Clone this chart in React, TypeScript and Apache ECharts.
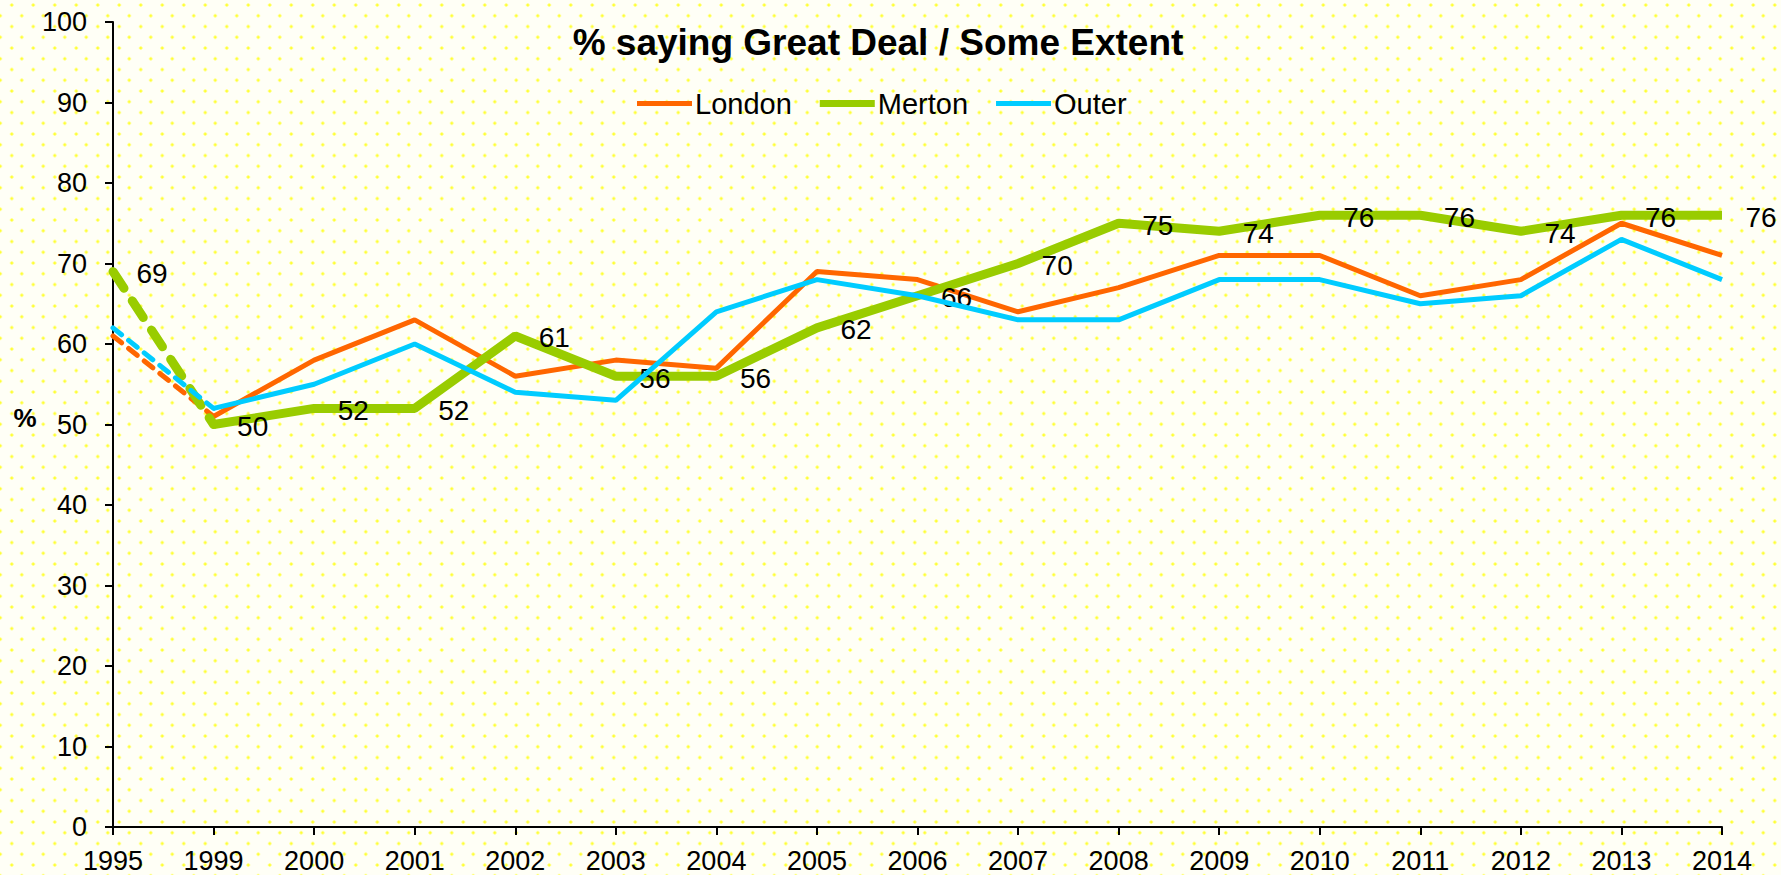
import React, { useEffect, useRef } from "react";
import * as echarts from "echarts";

const years = ["1995", "1999", "2000", "2001", "2002", "2003", "2004", "2005", "2006", "2007", "2008", "2009", "2010", "2011", "2012", "2013", "2014"];
const london = [61, 51, 58, 63, 56, 58, 57, 69, 68, 64, 67, 71, 71, 66, 68, 75, 71];
const merton = [69, 50, 52, 52, 61, 56, 56, 62, 66, 70, 75, 74, 76, 76, 74, 76, 76];
const outer = [62, 52, 55, 60, 54, 53, 64, 68, 66, 63, 63, 68, 68, 65, 66, 73, 68];
const yTicks = { min: 0, max: 100, interval: 10 };
const titleText = "% saying Great Deal / Some Extent";

const FONT = "'Liberation Sans', Arial, sans-serif";
const C_LONDON = "#FF6600";
const C_MERTON = "#99CC00";
const C_OUTER = "#00CCFF";

const solidPart = (arr: number[]) => arr.map((v, i) => (i === 0 ? "-" : v));
const dashedPart = (arr: number[]) => arr.map((v, i) => (i <= 1 ? v : "-"));

export default function App() {
  const ref = useRef<HTMLDivElement>(null);
  useEffect(() => {
    if (!ref.current) return;
    const chart = echarts.init(ref.current, null, { renderer: "svg" });
    const label = {
      show: true,
      position: "right",
      distance: 23,
      offset: [0, 2],
      color: "#000",
      fontSize: 28,
      fontFamily: FONT,
    };
    const hiddenDot = { color: "rgba(0,0,0,0)", borderWidth: 0 };
    chart.setOption({
      animation: false,
      backgroundColor: "transparent",
      grid: { left: 113, right: 59, top: 22, bottom: 48, containLabel: false },
      legend: {
        data: [
          { name: "London", icon: "path://M0 0H55V5H0Z", itemStyle: { color: C_LONDON, opacity: 1 } },
          { name: "Merton", icon: "path://M0 0H55V7H0Z", itemStyle: { color: C_MERTON, opacity: 1 } },
          { name: "Outer", icon: "path://M0 0H55V5H0Z", itemStyle: { color: C_OUTER, opacity: 1 } },
        ],
        left: 632,
        top: 84,
        itemWidth: 55,
        itemHeight: 14,
        itemGap: 28,
        textStyle: { fontSize: 29, fontFamily: FONT, color: "#000", padding: [0, 0, 0, -2] },
      },
      graphic: [
        {
          type: "text",
          x: 878,
          y: 42,
          style: {
            text: titleText,
            font: `bold 37px ${FONT}`,
            fill: "#000",
            textAlign: "center",
            textVerticalAlign: "middle",
          },
        },
        {
          type: "text",
          x: 25,
          y: 418,
          style: {
            text: "%",
            font: `bold 26px ${FONT}`,
            fill: "#000",
            textAlign: "center",
            textVerticalAlign: "middle",
          },
        },
      ],
      xAxis: {
        type: "category",
        data: years,
        boundaryGap: false,
        axisLine: { lineStyle: { color: "#000", width: 2 } },
        axisTick: { show: true, length: 8, lineStyle: { color: "#000", width: 2 } },
        axisLabel: { color: "#000", fontSize: 27, fontFamily: FONT, margin: 20, interval: 0 },
        splitLine: { show: false },
      },
      yAxis: {
        type: "value",
        min: yTicks.min,
        max: yTicks.max,
        interval: yTicks.interval,
        axisLine: { show: true, lineStyle: { color: "#000", width: 2 } },
        axisTick: { show: true, length: 8, lineStyle: { color: "#000", width: 2 } },
        axisLabel: { color: "#000", fontSize: 27, fontFamily: FONT, margin: 26 },
        splitLine: { show: false },
      },
      series: [
        {
          name: "London",
          type: "line",
          data: solidPart(london),
          symbol: "none",
          lineStyle: { color: C_LONDON, width: 5 },
          itemStyle: { color: C_LONDON },
          z: 2,
        },
        {
          name: "Merton",
          type: "line",
          data: solidPart(merton),
          symbol: "circle",
          symbolSize: 1,
          showSymbol: true,
          lineStyle: { color: C_MERTON, width: 9 },
          itemStyle: hiddenDot,
          label,
          z: 3,
        },
        {
          name: "Outer",
          type: "line",
          data: solidPart(outer),
          symbol: "none",
          lineStyle: { color: C_OUTER, width: 5 },
          itemStyle: { color: C_OUTER },
          z: 4,
        },
        {
          name: "London95",
          type: "line",
          data: dashedPart(london),
          symbol: "none",
          lineStyle: { color: C_LONDON, width: 5, type: [11, 9], cap: "round" },
          z: 2,
        },
        {
          name: "Merton95",
          type: "line",
          data: dashedPart(merton).map((v, i) => (i === 0 ? { value: v, label } : { value: v, label: { show: false } })),
          symbol: "circle",
          symbolSize: 1,
          showSymbol: true,
          itemStyle: hiddenDot,
          lineStyle: { color: C_MERTON, width: 9, type: [20, 15], cap: "round" },
          z: 3,
        },
        {
          name: "Outer95",
          type: "line",
          data: dashedPart(outer),
          symbol: "none",
          lineStyle: { color: C_OUTER, width: 5, type: [11, 9], cap: "round" },
          z: 4,
        },
      ],
    });
    return () => chart.dispose();
  }, []);

  const bg: React.CSSProperties = {
    position: "fixed",
    left: 0,
    top: 0,
    width: 1781,
    height: 875,
    backgroundColor: "#FFFFF6",
    backgroundImage:
      "radial-gradient(circle, #FFFF33 1.3px, rgba(255,255,0,0) 1.8px), radial-gradient(circle, #FFFF33 1.3px, rgba(255,255,0,0) 1.8px)",
    backgroundSize: "21.5px 21.5px",
    backgroundPosition: "1px -5.7px, 11px 5px",
  };

  return <div ref={ref} style={bg} />;
}
